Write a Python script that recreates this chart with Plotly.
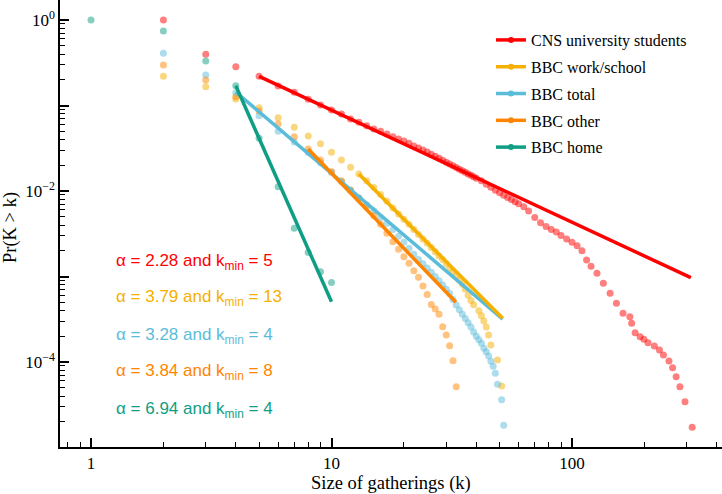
import numpy as np
import plotly.graph_objects as go

# ---------------- data ----------------
series_names = ["CNS university students", "BBC work/school", "BBC total", "BBC other", "BBC home"]
series_colors = ["#FF0000", "#F5B000", "#5BBCD9", "#FF8500", "#0F9E84"]

cns_k = [2, 3, 4, 5, 6, 7, 8, 9, 10, 11, 12, 13, 14, 15, 16, 17, 18, 19, 20, 21, 22, 23, 24, 25,
         26, 27, 28, 29, 30, 31, 32, 33, 34, 35, 36, 37, 38, 39, 40, 42, 44, 46, 48, 50, 52, 54, 56,
         58, 60, 63, 66, 70, 74, 78, 82, 86, 90, 95, 100, 105, 110, 115, 120, 127, 135, 144, 153,
         163, 174, 177, 183, 192, 199, 207, 220, 231, 240, 253, 262, 271, 281, 295, 316]
cns_logp = [0.0, -0.401, -0.546, -0.659, -0.772, -0.846, -0.928, -0.994, -1.053, -1.099, -1.158,
            -1.197, -1.236, -1.275, -1.302, -1.333, -1.365, -1.392, -1.415, -1.442, -1.474, -1.497,
            -1.520, -1.544, -1.570, -1.594, -1.618, -1.641, -1.663, -1.684, -1.705, -1.725, -1.745,
            -1.764, -1.782, -1.800, -1.817, -1.833, -1.850, -1.880, -1.920, -1.955, -1.990, -2.020,
            -2.050, -2.075, -2.100, -2.125, -2.150, -2.185, -2.235, -2.310, -2.370, -2.415, -2.450,
            -2.480, -2.520, -2.560, -2.600, -2.640, -2.700, -2.807, -2.880, -2.963, -3.080, -3.197,
            -3.314, -3.430, -3.470, -3.547, -3.657, -3.704, -3.735, -3.774, -3.813, -3.860, -3.918,
            -3.988, -4.067, -4.172, -4.289, -4.464, -4.764]

work_k = [2, 3, 4, 5, 6, 7, 8, 9, 10, 11, 12, 13, 14, 15, 16, 17, 18, 19, 20, 21, 22, 23, 24, 25,
          26, 27, 28, 29, 30, 31, 32, 33, 34, 35, 36, 37, 38, 39, 41, 42, 43, 44, 45, 46, 49, 51]
work_logp = [-0.659, -0.780, -0.924, -1.025, -1.142, -1.255, -1.357, -1.446, -1.547, -1.637,
             -1.723, -1.801, -1.880, -1.960, -2.040, -2.120, -2.200, -2.270, -2.330, -2.390,
             -2.450, -2.510, -2.560, -2.610, -2.660, -2.710, -2.760, -2.800, -2.850, -2.900,
             -2.940, -2.990, -3.040, -3.090, -3.150, -3.220, -3.280, -3.330, -3.400, -3.460,
             -3.520, -3.590, -3.684, -3.801, -3.977, -4.281]

total_k = [2, 3, 4, 5, 6, 7, 8, 9, 10, 11, 12, 13, 14, 15, 16, 17, 18, 19, 20, 21, 22, 23, 24,
           25, 26, 27, 28, 29, 30, 31, 32, 33, 34, 35, 36, 37, 38, 39, 40, 41, 42, 43, 44, 45,
           46, 47, 48, 49, 51, 52]
total_logp = [-0.390, -0.643, -0.850, -1.121, -1.302, -1.427, -1.550, -1.670, -1.780, -1.890,
              -1.990, -2.080, -2.160, -2.230, -2.310, -2.380, -2.450, -2.530, -2.600, -2.670,
              -2.740, -2.800, -2.850, -2.900, -2.950, -3.000, -3.050, -3.100, -3.150, -3.200,
              -3.270, -3.333, -3.390, -3.440, -3.490, -3.540, -3.590, -3.650, -3.700, -3.740,
              -3.780, -3.840, -3.880, -3.930, -3.990, -4.050, -4.130, -4.260, -4.440, -4.740]

other_k = [2, 3, 4, 5, 6, 7, 8, 9, 10, 11, 12, 13, 14, 15, 16, 17, 18, 19, 20, 21, 22, 23, 24,
           25, 26, 27, 28, 29, 30, 31, 32, 33]
other_logp = [-0.526, -0.702, -0.897, -1.064, -1.216, -1.365, -1.509, -1.637, -1.774, -1.879,
              -1.988, -2.086, -2.183, -2.290, -2.390, -2.495, -2.593, -2.682, -2.768, -2.846,
              -2.932, -3.010, -3.111, -3.209, -3.326, -3.380, -3.442, -3.587, -3.684, -3.809,
              -3.985, -4.289]

home_k = [1, 2, 3, 4, 5, 6, 7, 8, 9, 10]
home_logp = [0.0, -0.129, -0.480, -0.768, -1.384, -1.950, -2.436, -2.720, -2.944, -3.070]

# fitted power-law segments: (k_min, k_end) and (P at k_min, P at k_end)
fit_k = {"CNS university students": [5, 312], "BBC work/school": [13, 51.5],
         "BBC total": [4, 51.5], "BBC other": [8, 32.9], "BBC home": [4, 10]}
fit_p = {"CNS university students": [0.219, 9.7e-4], "BBC work/school": [0.0158, 3.24e-4],
         "BBC total": [0.144, 3.18e-4], "BBC other": [0.031, 4.99e-4], "BBC home": [0.17, 5.07e-4]}

annot_texts = ["α = 2.28 and k<sub>min</sub> = 5", "α = 3.79 and k<sub>min</sub> = 13",
               "α = 3.28 and k<sub>min</sub> = 4", "α = 3.84 and k<sub>min</sub> = 8",
               "α = 6.94 and k<sub>min</sub> = 4"]

x_tickvals = [1, 10, 100]
x_ticktext = ["1", "10", "100"]
y_tickvals = [1, 1e-2, 1e-4]
y_ticktext = ["10<sup>0</sup>", "10<sup>−2</sup>", "10<sup>−4</sup>"]
y_unlabeled_major = [1e-1, 1e-3, 1e-5]
x_title = "Size of gatherings (k)"
y_title = "Pr(K > k)"

# ---------------- figure ----------------
data_sets = {
    "CNS university students": (cns_k, cns_logp),
    "BBC work/school": (work_k, work_logp),
    "BBC total": (total_k, total_logp),
    "BBC other": (other_k, other_logp),
    "BBC home": (home_k, home_logp),
}
color_of = dict(zip(series_names, series_colors))

fig = go.Figure()

# scatter points
for name in series_names:
    k, lp = data_sets[name]
    fig.add_trace(go.Scatter(
        x=k, y=10 ** np.array(lp), mode="markers",
        marker=dict(size=7, color=color_of[name], opacity=0.5, line=dict(width=0)),
        showlegend=False, hoverinfo="skip"))

# fitted lines
for name in ["BBC total", "BBC work/school", "BBC other", "BBC home", "CNS university students"]:
    fig.add_trace(go.Scatter(
        x=fit_k[name], y=fit_p[name], mode="lines",
        line=dict(color=color_of[name], width=3.5),
        showlegend=False, hoverinfo="skip"))

# invisible trace binding the secondary (tick-only) y axis
fig.add_trace(go.Scatter(x=[None], y=[None], yaxis="y2", showlegend=False, hoverinfo="skip"))

# legend entries
for i, name in enumerate(series_names):
    fig.add_trace(go.Scatter(
        x=[None], y=[None], mode="lines+markers", name=name,
        line=dict(color=color_of[name], width=3.5),
        marker=dict(size=6, color=color_of[name]),
        legendgroup=f"g{i}"))

serif = "Liberation Serif, Times New Roman, serif"

# annotations
ann_y_px = [262, 298, 336, 372, 410]
plot_h = 447
plot_w = 662
for txt, col, ypx in zip(annot_texts, series_colors, ann_y_px):
    fig.add_annotation(
        xref="paper", yref="paper", x=(114 - 60) / plot_w, y=1 - ypx / plot_h,
        xanchor="left", yanchor="middle", showarrow=False, text=txt,
        font=dict(family="Liberation Sans, Arial, sans-serif", size=17, color=col))

# axis titles
fig.add_annotation(xref="paper", yref="paper", x=(391 - 60) / plot_w, y=-(484 - plot_h) / plot_h,
                   xanchor="center", yanchor="middle", showarrow=False, text=x_title,
                   font=dict(family=serif, size=18.5, color="black"))
fig.add_annotation(xref="paper", yref="paper", x=-(60 - 10) / plot_w, y=1 - 228 / plot_h,
                   xanchor="center", yanchor="middle", showarrow=False, text=y_title,
                   textangle=-90, font=dict(family=serif, size=18.5, color="black"))

minor_x = [v * 10 ** e for e in (-1, 0, 1, 2) for v in range(2, 10)]
minor_x = [v for v in minor_x if 0.74 < v < 420]
minor_y = [v * 10 ** e for e in (-5, -4, -3, -2, -1) for v in range(2, 10)]

yrange = [-4.994, 0.2339]
fig.update_layout(
    width=722, height=494,
    margin=dict(l=60, r=0, t=0, b=47, autoexpand=False),
    paper_bgcolor="white", plot_bgcolor="white",
    font=dict(family=serif, size=16, color="black"),
    legend=dict(x=0.651, y=0.9485, xanchor="left", yanchor="top",
                font=dict(family=serif, size=16, color="black"),
                bgcolor="rgba(0,0,0,0)", traceorder="grouped", tracegroupgap=3,
                itemwidth=30),
    xaxis=dict(type="log", range=[-0.1289, 2.6237], showgrid=False, zeroline=False,
               automargin=False,
               showline=True, linecolor="black", linewidth=1.5,
               tickmode="array", tickvals=x_tickvals, ticktext=x_ticktext,
               ticks="inside", ticklen=9, tickwidth=1.5, tickcolor="black",
               tickfont=dict(family=serif, size=17),
               minor=dict(tickmode="array", tickvals=minor_x, ticks="inside", ticklen=5,
                          tickwidth=1.2, tickcolor="black", showgrid=False)),
    yaxis=dict(type="log", range=yrange, showgrid=False, zeroline=False,
               automargin=False,
               showline=True, linecolor="black", linewidth=1.5,
               tickmode="array", tickvals=y_tickvals, ticktext=y_ticktext,
               ticks="inside", ticklen=9, tickwidth=1.5, tickcolor="black",
               tickfont=dict(family=serif, size=17),
               minor=dict(tickmode="array", tickvals=minor_y, ticks="inside", ticklen=5,
                          tickwidth=1.2, tickcolor="black", showgrid=False)),
    yaxis2=dict(type="log", range=yrange, overlaying="y", side="left", showgrid=False,
                zeroline=False, showline=False, automargin=False, showticklabels=False,
                tickmode="array", tickvals=y_unlabeled_major,
                ticks="inside", ticklen=9, tickwidth=1.5, tickcolor="black"),
)

fig.write_html("out.html", config={"displayModeBar": False},
               post_script="document.body.style.margin='0';document.body.style.overflow='hidden';")
